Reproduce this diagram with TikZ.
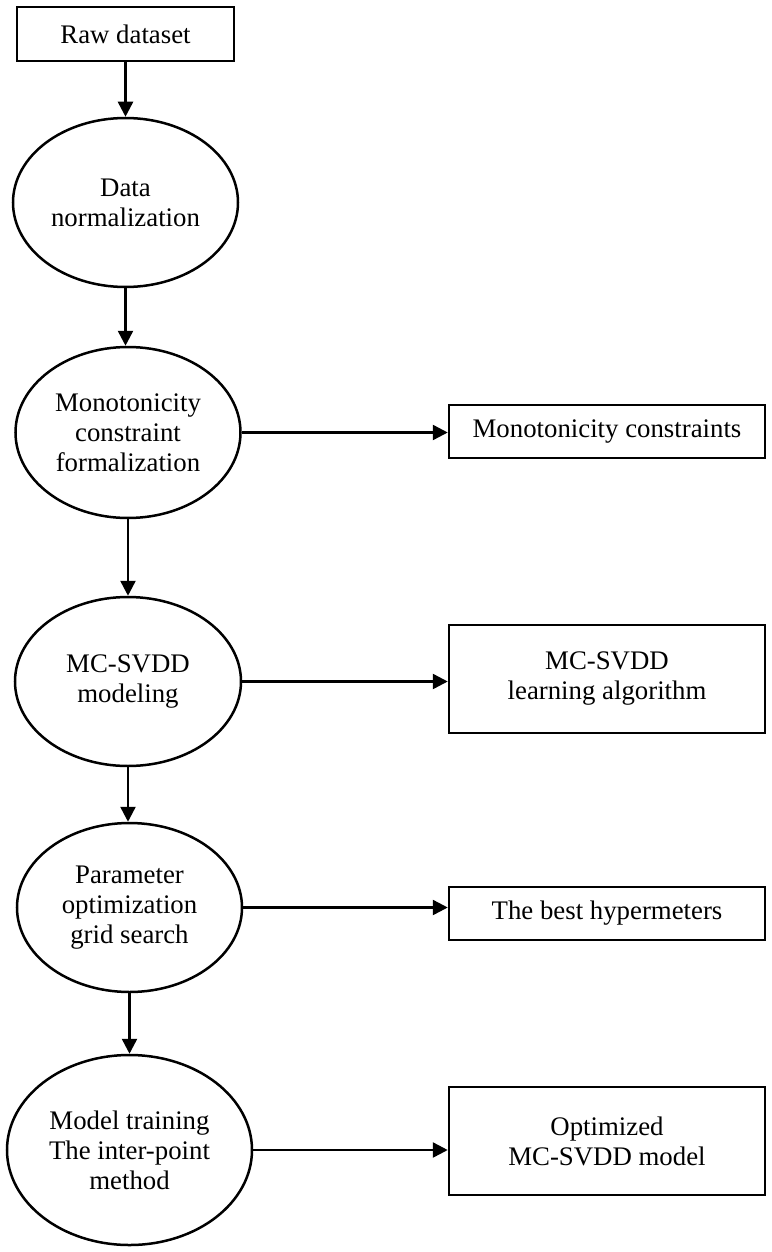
\documentclass[tikz,border=0pt]{standalone}
\usepackage{fontspec}
\setmainfont{Liberation Serif}
\usetikzlibrary{shapes.geometric,arrows.meta}
\tikzset{
  base/.style={draw=black, line width=2.5pt, inner sep=0pt, align=center,
    font=\fontsize{26.8}{30}\selectfont},
  oval/.style={base, ellipse},
  boxnode/.style={base, rectangle},
  arr/.style={line width=2.5pt, -{Triangle[length=15pt,width=15pt]}}
}
\begin{document}
\begin{tikzpicture}[x=1pt,y=-1pt]
\useasboundingbox (0,0) rectangle (771,1252);
\node[boxnode, minimum width=217pt, minimum height=54pt] (raw) at (125.5,34) {Raw dataset};
\node[oval, minimum width=225pt, minimum height=169pt] (e1) at (125.5,202.5) {Data\\normalization};
\node[oval, minimum width=225pt, minimum height=171pt] (e2) at (128,432.5) {Monotonicity\\constraint\\formalization};
\node[oval, minimum width=226pt, minimum height=169pt] (e3) at (128,681.5) {MC-SVDD\\modeling};
\node[oval, minimum width=225pt, minimum height=169pt] (e4) at (129.5,907.5) {Parameter\\optimization\\grid search};
\node[oval, minimum width=245pt, minimum height=190pt] (e5) at (129.5,1150) {Model training\\The inter-point\\method};
\node[boxnode, minimum width=316pt, minimum height=53pt] (b1) at (607,431.5) {Monotonicity constraints};
\node[boxnode, minimum width=316pt, minimum height=108pt] (b2) at (607,679) {MC-SVDD\\learning algorithm};
\node[boxnode, minimum width=316pt, minimum height=53pt] (b3) at (607,913.5) {The best hypermeters};
\node[boxnode, minimum width=316pt, minimum height=108pt] (b4) at (607,1141) {Optimized\\MC-SVDD model};
\draw[arr] (raw.south) -- (raw.south |- e1.north);
\draw[arr] (e1.south) -- (e1.south |- e2.north);
\draw[arr] (e2.south) -- (e2.south |- e3.north);
\draw[arr] (e3.south) -- (e3.south |- e4.north);
\draw[arr] (e4.south) -- (e4.south |- e5.north);
\draw[arr] (e2.east) -- (e2.east -| b1.west);
\draw[arr] (e3.east) -- (e3.east -| b2.west);
\draw[arr] (e4.east) -- (e4.east -| b3.west);
\draw[arr] (e5.east) -- (e5.east -| b4.west);
\end{tikzpicture}
\end{document}
